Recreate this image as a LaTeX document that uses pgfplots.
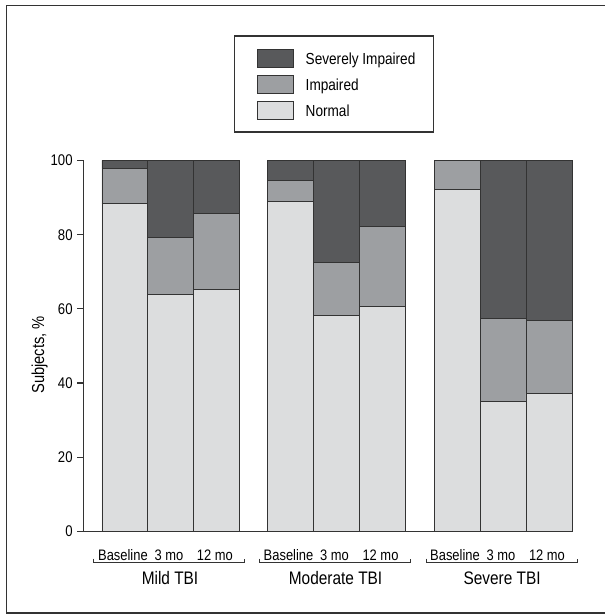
\documentclass[border=0pt]{standalone}
\usepackage{pgfplots}
\pgfplotsset{compat=1.18}
\usepackage{pgfplotstable}
\usepackage{fontspec}
\setmainfont{Liberation Sans}[FakeStretch=0.85]
\definecolor{cdark}{HTML}{58595B}
\definecolor{cmid}{HTML}{9D9FA2}
\definecolor{clight}{HTML}{DCDDDE}
\definecolor{cline}{HTML}{333333}

% x = position, bars of one group touch, groups separated by a gap
\pgfplotstableread{
x     normal impaired severe
0     88.3   9.5      2.2
1     64.0   15.3     20.7
2     65.3   20.3     14.4
3.6   88.9   5.6      5.5
4.6   58.3   14.3     27.4
5.6   60.6   21.6     17.8
7.22  92.3   7.7      0.0
8.22  35.0   22.5     42.5
9.22  37.2   19.6     43.2
}\datatable

\pgfplotsset{
  mybar/.style={draw=cline, line width=0.7pt, fill=#1,
    legend image code/.code={\path (0pt,0pt); \draw[##1] (3pt,-6.75pt) rectangle (30pt,6.75pt);}},
}

\begin{document}
\begin{tikzpicture}
\path[use as bounding box] (0pt,0pt) rectangle (453.75pt,460.5pt);
\draw[cline, line width=1.1pt] (453.75pt,456.5pt) -- (4.875pt,456.5pt) -- (4.875pt,0.75pt) -- (453.75pt,0.75pt);
\begin{axis}[
  at={(62.475pt,61.875pt)}, anchor=south west,
  scale only axis, width=366.5pt, height=278.25pt,
  ybar stacked, bar width=1,
  xmin=-0.906, xmax=9.72, ymin=0, ymax=100,
  enlargelimits=false,
  clip=false,
  axis x line*=bottom, axis y line*=left,
  axis line style={-, cline, line width=0.9pt},
  ytick={0,20,40,60,80,100},
  tick align=outside, major tick length=4.5pt,
  ytick style={cline, line width=0.9pt},
  xtick=data,
  xticklabels={Baseline,3 mo,12 mo,Baseline,3 mo,12 mo,Baseline,3 mo,12 mo},
  xtick style={draw=none},
  xticklabel style={anchor=base, yshift=-16.9pt, xshift=-1.5pt, font=\fontsize{11.4}{13}\selectfont},
  yticklabel style={font=\fontsize{11.6}{13}\selectfont},
  /pgf/number format/assume math mode=true,
  ylabel={Subjects, \%},
  ylabel style={at={(axis description cs:-0.0892,0.476)}, anchor=center, font=\fontsize{13}{15}\selectfont},
  reverse legend,
  legend cell align=left,
  legend style={at={(axis description cs:0.3084,1.337)}, anchor=north west,
    draw=cline, line width=0.8pt, inner xsep=13.5pt, inner ysep=6.75pt,
    column sep=9.2pt, row sep=0pt,
    nodes={inner xsep=0pt, inner ysep=4pt, text height=10.8pt, text depth=0.7pt},
    font=\fontsize{12}{14}\selectfont},
]
\addplot[mybar=clight] table[x=x, y=normal] {\datatable};
\addlegendentry{Normal}
\addplot[mybar=cmid] table[x=x, y=impaired] {\datatable};
\addlegendentry{Impaired}
\addplot[mybar=cdark] table[x=x, y=severe] {\datatable};
\addlegendentry{Severely Impaired}

\draw[cline, line width=0.7pt] (axis cs:-0.68,-7.28) -- (axis cs:-0.68,-8.38) -- (axis cs:2.59,-8.38) -- (axis cs:2.59,-7.28);
\draw[cline, line width=0.7pt] (axis cs:2.93,-7.28) -- (axis cs:2.93,-8.38) -- (axis cs:6.21,-8.38) -- (axis cs:6.21,-7.28);
\draw[cline, line width=0.7pt] (axis cs:6.56,-7.28) -- (axis cs:6.56,-8.38) -- (axis cs:9.84,-8.38) -- (axis cs:9.84,-7.28);
\node[anchor=base, font=\fontsize{13.6}{15}\selectfont] at (axis cs:0.98,-14.4) {Mild TBI};
\node[anchor=base, font=\fontsize{13.6}{15}\selectfont] at (axis cs:4.58,-14.4) {Moderate TBI};
\node[anchor=base, font=\fontsize{13.6}{15}\selectfont] at (axis cs:8.2,-14.4) {Severe TBI};
\end{axis}
\end{tikzpicture}
\end{document}
